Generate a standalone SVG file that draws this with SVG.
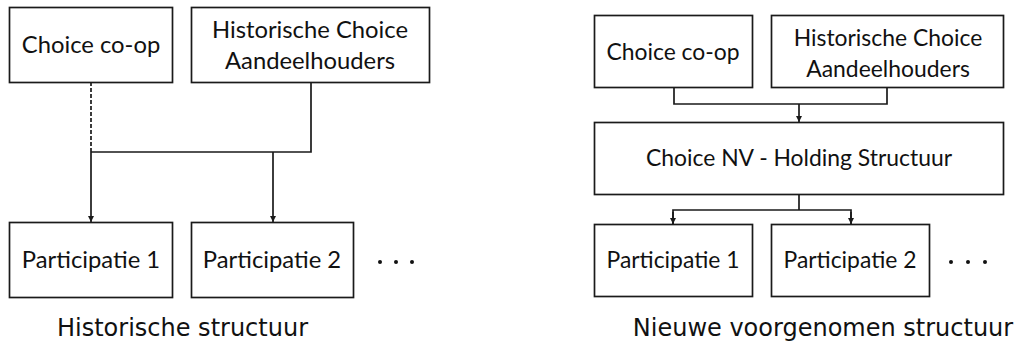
<svg xmlns="http://www.w3.org/2000/svg" width="1018" height="342" viewBox="0 0 1018 342">
<defs>
<style>
.box{fill:#fff;stroke:#1a1a1a;stroke-width:1.7}
.lbl{font-family:Lato,"Liberation Sans",sans-serif;font-size:23.8px;fill:#111;text-anchor:middle}
.lbl2{font-family:Lato,"Liberation Sans",sans-serif;font-size:22.9px;fill:#111;text-anchor:middle}
.cap{font-family:"DejaVu Sans",Verdana,sans-serif;font-size:24px;fill:#111;text-anchor:middle}
.ln{fill:none;stroke:#1a1a1a;stroke-width:1.7}
.dash{stroke-dasharray:4 2}
.dot{fill:#111}
</style>
<marker id="ah" viewBox="0 0 10 10" refX="10" refY="5" markerWidth="6" markerHeight="6" markerUnits="userSpaceOnUse" orient="auto"><path d="M0,0 L10,5 L0,10 Z" fill="#1a1a1a"/></marker>
</defs>

<g id="connectors">
<path class="ln dash" d="M91,82 V152"/>
<path class="ln" d="M311,82 V152 H91"/>
<path class="ln" d="M91,152 V222" marker-end="url(#ah)"/>
<path class="ln" d="M273,152 V222" marker-end="url(#ah)"/>
<path class="ln" d="M674,87 V104 H887 V87"/>
<path class="ln" d="M799,104 V122" marker-end="url(#ah)"/>
<path class="ln" d="M799,194 V210"/>
<path class="ln" d="M673,224 V210 H851 V224"/>
<path class="ln" d="M673,212 V224" marker-end="url(#ah)"/>
<path class="ln" d="M851,212 V224" marker-end="url(#ah)"/>
</g>

<g id="l-coop"><rect class="box" x="9.5" y="7.5" width="163" height="75"/><text class="lbl" x="91" y="53">Choice co-op</text></g>
<g id="l-hist"><rect class="box" x="191.5" y="7.5" width="238" height="75"/><text class="lbl" x="310" y="38">Historische Choice</text><text class="lbl" x="310" y="68.5">Aandeelhouders</text></g>
<g id="l-p1"><rect class="box" x="9.5" y="222.5" width="163" height="75"/><text class="lbl" x="91" y="268">Participatie 1</text></g>
<g id="l-p2"><rect class="box" x="191.5" y="222.5" width="162" height="75"/><text class="lbl" x="272" y="268">Participatie 2</text></g>
<g id="l-dots"><circle class="dot" cx="380" cy="262" r="2"/><circle class="dot" cx="396" cy="262" r="2"/><circle class="dot" cx="412" cy="262" r="2"/></g>
<text id="l-caption" class="cap" x="182.5" y="335.5">Historische structuur</text>

<g id="r-coop"><rect class="box" x="594.5" y="15.5" width="158" height="72"/><text class="lbl2" x="673" y="60">Choice co-op</text></g>
<g id="r-hist"><rect class="box" x="771.5" y="15.5" width="232" height="72"/><text class="lbl2" x="888" y="46">Historische Choice</text><text class="lbl2" x="888" y="76.5">Aandeelhouders</text></g>
<g id="r-holding"><rect class="box" x="594.5" y="122.5" width="409" height="72"/><text class="lbl2" x="799" y="166">Choice NV - Holding Structuur</text></g>
<g id="r-p1"><rect class="box" x="594.5" y="224.5" width="158" height="72"/><text class="lbl2" x="673" y="267.5">Participatie 1</text></g>
<g id="r-p2"><rect class="box" x="771.5" y="224.5" width="158" height="72"/><text class="lbl2" x="850" y="267.5">Participatie 2</text></g>
<g id="r-dots"><circle class="dot" cx="951" cy="262" r="2"/><circle class="dot" cx="968" cy="262" r="2"/><circle class="dot" cx="985" cy="262" r="2"/></g>
<text id="r-caption" class="cap" x="823" y="335.5">Nieuwe voorgenomen structuur</text>
</svg>
